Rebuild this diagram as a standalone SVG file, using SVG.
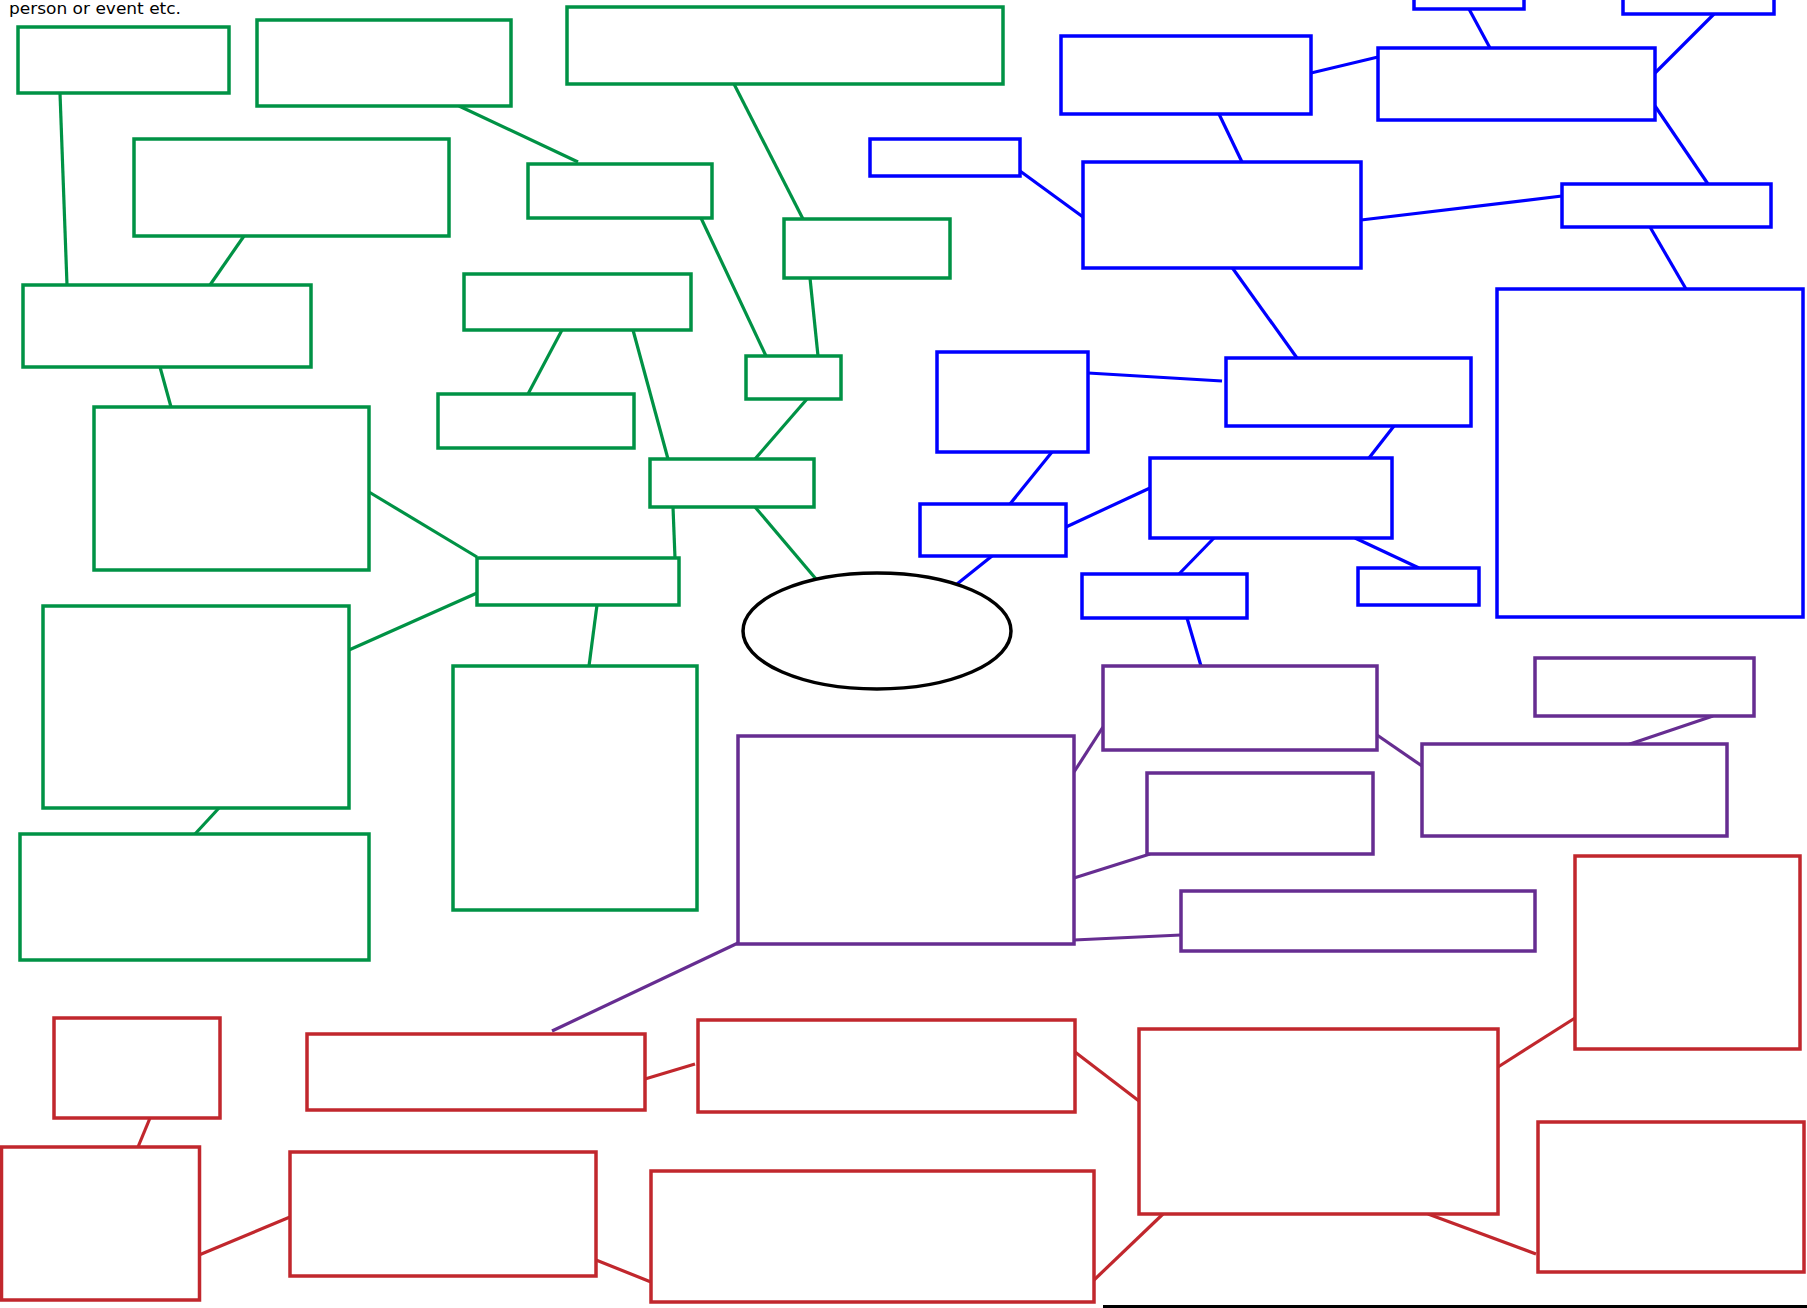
<svg xmlns="http://www.w3.org/2000/svg" width="1807" height="1308" viewBox="0 0 1807 1308">
<style>
rect{fill:#fff;stroke-width:3.5}
.g rect{stroke:#009245}.b rect{stroke:#0000ff}.p rect{stroke:#662d91}.r rect{stroke:#c1272d}
#connectors line{stroke-width:3.2;stroke-linecap:butt}
.cg{stroke:#009245}.cb{stroke:#0000ff}.cp{stroke:#662d91}.cr{stroke:#c1272d}
text{font-family:"DejaVu Sans","Liberation Sans",sans-serif;font-size:16px;fill:#000}
</style>
<rect x="0" y="0" width="1807" height="1308" fill="#fff" stroke="none"/>
<text x="9" y="14" textLength="172" lengthAdjust="spacingAndGlyphs">person or event etc.</text>
<g id="connectors">
<line class="cg" x1="60" y1="93" x2="67" y2="285"/>
<line class="cg" x1="459" y1="106" x2="578" y2="162"/>
<line class="cg" x1="734" y1="84" x2="803" y2="219"/>
<line class="cg" x1="244" y1="236" x2="210" y2="285"/>
<line class="cg" x1="701" y1="218" x2="766" y2="356"/>
<line class="cg" x1="810" y1="278" x2="818" y2="356"/>
<line class="cg" x1="160" y1="367" x2="171" y2="407"/>
<line class="cg" x1="562" y1="330" x2="528" y2="394"/>
<line class="cg" x1="633" y1="330" x2="668" y2="459"/>
<line class="cg" x1="807" y1="399" x2="755" y2="459"/>
<line class="cg" x1="369" y1="492" x2="477" y2="557"/>
<line class="cg" x1="673" y1="507" x2="675" y2="558"/>
<line class="cg" x1="755" y1="507" x2="816" y2="579"/>
<line class="cg" x1="349" y1="650" x2="477" y2="593"/>
<line class="cg" x1="597" y1="605" x2="589" y2="666"/>
<line class="cg" x1="219" y1="808" x2="195" y2="834"/>
<line class="cb" x1="1469" y1="9" x2="1490" y2="48"/>
<line class="cb" x1="1714" y1="14" x2="1655" y2="73"/>
<line class="cb" x1="1311" y1="73" x2="1378" y2="57"/>
<line class="cb" x1="1219" y1="114" x2="1242" y2="162"/>
<line class="cb" x1="1655" y1="106" x2="1708" y2="184"/>
<line class="cb" x1="1020" y1="171" x2="1083" y2="217"/>
<line class="cb" x1="1361" y1="220" x2="1562" y2="196"/>
<line class="cb" x1="1231" y1="266" x2="1297" y2="358"/>
<line class="cb" x1="1650" y1="227" x2="1686" y2="289"/>
<line class="cb" x1="1088" y1="373" x2="1222" y2="381"/>
<line class="cb" x1="1394" y1="426" x2="1369" y2="458"/>
<line class="cb" x1="1052" y1="452" x2="1010" y2="504"/>
<line class="cb" x1="1150" y1="488" x2="1066" y2="527"/>
<line class="cb" x1="992" y1="556" x2="957" y2="584"/>
<line class="cb" x1="1214" y1="538" x2="1179" y2="574"/>
<line class="cb" x1="1355" y1="538" x2="1419" y2="568"/>
<line class="cb" x1="1187" y1="618" x2="1201" y2="666"/>
<line class="cp" x1="1074" y1="772" x2="1103" y2="727"/>
<line class="cp" x1="1377" y1="735" x2="1422" y2="766"/>
<line class="cp" x1="1713" y1="716" x2="1627" y2="745"/>
<line class="cp" x1="1074" y1="878" x2="1150" y2="854"/>
<line class="cp" x1="1074" y1="940" x2="1181" y2="935"/>
<line class="cp" x1="738" y1="943" x2="552" y2="1031"/>
<line class="cr" x1="150" y1="1118" x2="138" y2="1147"/>
<line class="cr" x1="645" y1="1079" x2="695" y2="1064"/>
<line class="cr" x1="1075" y1="1052" x2="1139" y2="1101"/>
<line class="cr" x1="1498" y1="1067" x2="1575" y2="1018"/>
<line class="cr" x1="199" y1="1255" x2="290" y2="1217"/>
<line class="cr" x1="596" y1="1260" x2="651" y2="1282"/>
<line class="cr" x1="1094" y1="1280" x2="1163" y2="1214"/>
<line class="cr" x1="1428" y1="1214" x2="1536" y2="1254"/>
<line x1="1103" y1="1306.5" x2="1807" y2="1306.5" stroke="#000" style="stroke-width:3"/>
</g>
<g class="g">
<g id="g1"><rect x="18" y="27" width="211" height="66"/></g>
<g id="g2"><rect x="257" y="20" width="254" height="86"/></g>
<g id="g3"><rect x="567" y="7" width="436" height="77"/></g>
<g id="g4"><rect x="134" y="139" width="315" height="97"/></g>
<g id="g5"><rect x="528" y="164" width="184" height="54"/></g>
<g id="g6"><rect x="784" y="219" width="166" height="59"/></g>
<g id="g7"><rect x="23" y="285" width="288" height="82"/></g>
<g id="g8"><rect x="464" y="274" width="227" height="56"/></g>
<g id="g9"><rect x="746" y="356" width="95" height="43"/></g>
<g id="g10"><rect x="438" y="394" width="196" height="54"/></g>
<g id="g11"><rect x="94" y="407" width="275" height="163"/></g>
<g id="g12"><rect x="650" y="459" width="164" height="48"/></g>
<g id="g13"><rect x="477" y="558" width="202" height="47"/></g>
<g id="g14"><rect x="43" y="606" width="306" height="202"/></g>
<g id="g15"><rect x="453" y="666" width="244" height="244"/></g>
<g id="g16"><rect x="20" y="834" width="349" height="126"/></g>
</g>
<g id="center"><ellipse cx="877" cy="631" rx="134" ry="58" fill="#fff" stroke="#000" stroke-width="3.5"/></g>
<g class="b">
<g id="b1"><rect x="1414" y="-10" width="110" height="19"/></g>
<g id="b2"><rect x="1623" y="-10" width="151" height="24"/></g>
<g id="b3"><rect x="1061" y="36" width="250" height="78"/></g>
<g id="b4"><rect x="1378" y="48" width="277" height="72"/></g>
<g id="b5"><rect x="870" y="139" width="150" height="37"/></g>
<g id="b6"><rect x="1083" y="162" width="278" height="106"/></g>
<g id="b7"><rect x="1562" y="184" width="209" height="43"/></g>
<g id="b8"><rect x="1497" y="289" width="306" height="328"/></g>
<g id="b9"><rect x="937" y="352" width="151" height="100"/></g>
<g id="b10"><rect x="1226" y="358" width="245" height="68"/></g>
<g id="b11"><rect x="1150" y="458" width="242" height="80"/></g>
<g id="b12"><rect x="920" y="504" width="146" height="52"/></g>
<g id="b13"><rect x="1082" y="574" width="165" height="44"/></g>
<g id="b14"><rect x="1358" y="568" width="121" height="37"/></g>
</g>
<g class="p">
<g id="p1"><rect x="1103" y="666" width="274" height="84"/></g>
<g id="p2"><rect x="1535" y="658" width="219" height="58"/></g>
<g id="p3"><rect x="738" y="736" width="336" height="208"/></g>
<g id="p4"><rect x="1422" y="744" width="305" height="92"/></g>
<g id="p5"><rect x="1147" y="773" width="226" height="81"/></g>
<g id="p6"><rect x="1181" y="891" width="354" height="60"/></g>
</g>
<g class="r">
<g id="r1"><rect x="54" y="1018" width="166" height="100"/></g>
<g id="r2"><rect x="307" y="1034" width="338" height="76"/></g>
<g id="r3"><rect x="698" y="1020" width="377" height="92"/></g>
<g id="r4"><rect x="1139" y="1029" width="359" height="185"/></g>
<g id="r5"><rect x="1575" y="856" width="225" height="193"/></g>
<g id="r6"><rect x="1.5" y="1147" width="198" height="153"/></g>
<g id="r7"><rect x="290" y="1152" width="306" height="124"/></g>
<g id="r8"><rect x="651" y="1171" width="443" height="131"/></g>
<g id="r9"><rect x="1538" y="1122" width="266" height="150"/></g>
</g>
</svg>
